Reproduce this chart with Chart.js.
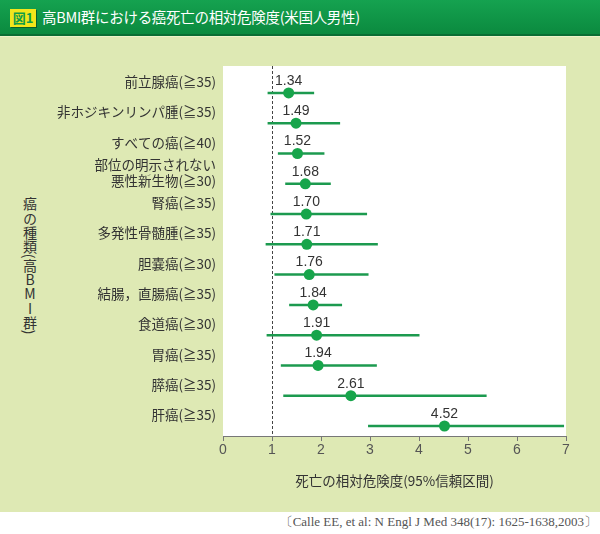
<!DOCTYPE html>
<html lang="ja">
<head>
<meta charset="utf-8">
<script src="https://cdn.jsdelivr.net/npm/chart.js@4.4.1/dist/chart.umd.min.js"></script>
<style>
  html, body { margin: 0; padding: 0; width: 600px; height: 534px; background: #ffffff; overflow: hidden; }
  body { position: relative; font-family: 'Noto Sans CJK JP', sans-serif; }
  #hdr { position: absolute; left: 0; top: 0; width: 600px; height: 34px;
         background: linear-gradient(#15a250, #0b8a3f); border-bottom: 2px solid #0a6e33; }
  #fig { position: absolute; left: 10px; top: 9px; width: 26px; height: 18px; background: #f3e61b;
         color: #129c48; font-weight: bold; font-size: 13px; line-height: 18px; text-align: center;
         box-shadow: 1px 1px 0 #0a5f2c; }
  #ttl { position: absolute; left: 42px; top: 7px; color: #ffffff; font-size: 14.5px; line-height: 20px; letter-spacing: -0.3px; }
  #bg { position: absolute; left: 0; top: 36px; width: 600px; height: 475px; background: #dee9b4; border-top: 1px solid #eef3c9; }
  #ytitle { position: absolute; left: 22px; top: 197px; writing-mode: vertical-rl; text-orientation: mixed;
            font-size: 14px; line-height: 16px; color: #333; letter-spacing: 0.2px; }
  #ytitle .up { text-orientation: upright; }
  #cite { position: absolute; right: 3px; top: 513px; font-family: 'Liberation Serif', serif; font-size: 13px;
          color: #555; letter-spacing: 0px; white-space: nowrap; }
  #wrap { position: absolute; left: 0; top: 0; width: 600px; height: 534px; }
</style>
</head>
<body>
<div id="hdr"><div id="fig">図1</div><div id="ttl">高BMI群における癌死亡の相対危険度(米国人男性)</div></div>
<div id="bg"></div>
<div id="ytitle">癌の種類(高<span class="up">BMI</span>群)</div>
<div id="cite">〔Calle EE, et al: N Engl J Med 348(17): 1625-1638,2003〕</div>
<div id="wrap"><canvas id="c" width="600" height="534"></canvas></div>
<script>
// ---- data ----
const categories = [
  '前立腺癌(≧35)',
  '非ホジキンリンパ腫(≧35)',
  'すべての癌(≧40)',
  '部位の明示されない\n悪性新生物(≧30)',
  '腎癌(≧35)',
  '多発性骨髄腫(≧35)',
  '胆嚢癌(≧30)',
  '結腸，直腸癌(≧35)',
  '食道癌(≧30)',
  '胃癌(≧35)',
  '膵癌(≧35)',
  '肝癌(≧35)'
];
const relativeRisk = [1.34, 1.49, 1.52, 1.68, 1.70, 1.71, 1.76, 1.84, 1.91, 1.94, 2.61, 4.52];
const ciLower      = [0.91, 0.91, 1.12, 1.27, 0.97, 0.87, 1.05, 1.35, 0.89, 1.18, 1.23, 2.96];
const ciUpper      = [1.86, 2.39, 2.07, 2.20, 2.94, 3.16, 2.97, 2.43, 4.01, 3.14, 5.38, 6.96];
const xTickValues  = [0, 1, 2, 3, 4, 5, 6, 7];
const referenceValue = 1;
const xTitle = '死亡の相対危険度(95%信頼区間)';

const GREEN_LINE = '#1c9a4f';
const GREEN_DOT = '#17a54b';

Chart.defaults.font.family = "'Noto Sans CJK JP', sans-serif";

const whiteArea = {
  id: 'whiteArea',
  beforeDraw(chart) {
    const a = chart.chartArea, ctx = chart.ctx;
    ctx.save(); ctx.fillStyle = '#ffffff';
    ctx.fillRect(a.left, a.top, a.right - a.left, a.bottom - a.top);
    ctx.restore();
  }
};
const refLine = {
  id: 'refLine',
  beforeDatasetsDraw(chart) {
    const a = chart.chartArea, ctx = chart.ctx;
    const x = Math.round(chart.scales.x.getPixelForValue(referenceValue)) + 0.5;
    ctx.save(); ctx.strokeStyle = '#444'; ctx.lineWidth = 1; ctx.setLineDash([3, 2]);
    ctx.beginPath(); ctx.moveTo(x, a.top); ctx.lineTo(x, a.bottom); ctx.stroke();
    ctx.restore();
  }
};
const errorBars = {
  id: 'errorBars',
  beforeDatasetsDraw(chart) {
    const ctx = chart.ctx, xs = chart.scales.x, ys = chart.scales.y;
    ctx.save(); ctx.strokeStyle = GREEN_LINE; ctx.lineWidth = 2.5; ctx.lineCap = 'butt';
    categories.forEach((c, i) => {
      const y = ys.getPixelForValue(i);
      ctx.beginPath();
      ctx.moveTo(xs.getPixelForValue(ciLower[i]), y);
      ctx.lineTo(xs.getPixelForValue(ciUpper[i]), y);
      ctx.stroke();
    });
    ctx.restore();
  }
};
const valueLabels = {
  id: 'valueLabels',
  afterDatasetsDraw(chart) {
    const ctx = chart.ctx, xs = chart.scales.x, ys = chart.scales.y;
    ctx.save(); ctx.fillStyle = '#333'; ctx.font = "14px 'Liberation Sans', sans-serif";
    ctx.textAlign = 'center'; ctx.textBaseline = 'middle';
    relativeRisk.forEach((v, i) => {
      ctx.fillText(v.toFixed(2), xs.getPixelForValue(v), ys.getPixelForValue(i) - 12);
    });
    ctx.restore();
  }
};

new Chart(document.getElementById('c'), {
  type: 'scatter',
  data: {
    datasets: [{
      data: relativeRisk.map((v, i) => ({ x: v, y: i })),
      pointRadius: 5.5,
      pointHoverRadius: 5.5,
      backgroundColor: GREEN_DOT,
      borderColor: GREEN_DOT,
      borderWidth: 0
    }]
  },
  options: {
    responsive: false,
    animation: false,
    events: [],
    layout: { padding: { left: 0, right: 34, top: 66, bottom: 45 } },
    plugins: { legend: { display: false }, tooltip: { enabled: false } },
    scales: {
      x: {
        type: 'linear', min: xTickValues[0], max: xTickValues[xTickValues.length - 1],
        afterBuildTicks(s) { s.ticks = xTickValues.map(v => ({ value: v })); },
        afterFit(s) { s.height = 53; },
        ticks: { color: '#555', font: { size: 14, family: "'Liberation Sans', sans-serif" }, padding: 1 },
        grid: { drawOnChartArea: false, drawTicks: true, tickLength: 5, color: '#777' },
        border: { color: '#777', width: 1 },
        title: { display: true, text: xTitle, color: '#333', font: { size: 13.5 }, padding: { top: 0, bottom: 0 } }
      },
      y: {
        type: 'linear', reverse: true, min: -0.89, max: 11.33,
        afterFit(s) { s.width = 223; },
        ticks: {
          stepSize: 1, includeBounds: false, autoSkip: false, maxTicksLimit: 30,
          labelOffset: -11, padding: 7, color: '#333', font: { size: 13.5 },
          callback: v => (Number.isInteger(v) && categories[v]) ? categories[v].split('\n') : null
        },
        grid: { display: false, drawTicks: false },
        border: { display: false }
      }
    }
  },
  plugins: [whiteArea, refLine, errorBars, valueLabels]
});
</script>
</body>
</html>
